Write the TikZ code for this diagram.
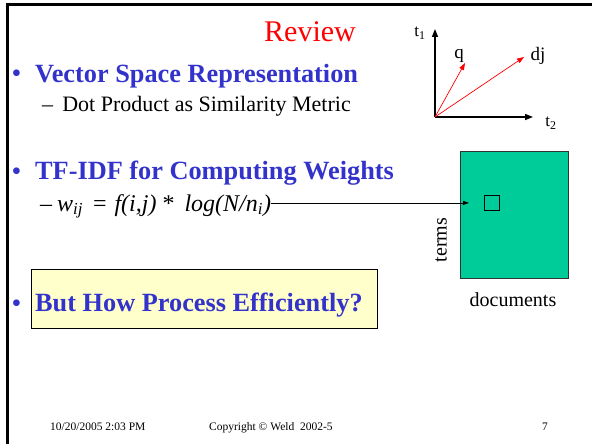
\documentclass[tikz,border=0pt]{standalone}
\usepackage{xcolor}
\usepackage{fontspec}
\setmainfont{Liberation Serif}
\usetikzlibrary{arrows.meta, positioning}
\definecolor{slideblue}{RGB}{51,51,204}
\definecolor{matgreen}{RGB}{0,204,153}
\definecolor{notefill}{RGB}{255,255,204}
\tikzstyle{head} = [anchor=base west, inner sep=0pt, text=slideblue, font=\fontsize{26.3}{30}\selectfont\bfseries]
\tikzstyle{bullet} = [anchor=base, inner sep=0pt, text=slideblue, font=\fontsize{28}{30}\selectfont]
\tikzstyle{sub} = [anchor=base west, inner sep=0pt, font=\fontsize{22}{26}\selectfont]
\tikzstyle{small} = [inner sep=0pt, font=\fontsize{19}{22}\selectfont]
\tikzstyle{foot} = [anchor=base west, inner sep=0pt, font=\fontsize{11.5}{13}\selectfont]
\tikzstyle{axis} = [line width=1.5pt, -{Triangle[length=8pt,width=6pt]}]
\tikzstyle{vec} = [red, line width=0.7pt, -{Triangle[length=7pt,width=5pt]}]
\tikzstyle{arrow} = [line width=0.8pt, -{Triangle[length=6pt,width=4pt]}]

\begin{document}
\begin{tikzpicture}[x=1pt, y=-1pt]
    \useasboundingbox (0,0) rectangle (592,444);
    % Slide frame
    \draw[line width=3pt] (7.5,444) -- (7.5,4.5) -- (600,4.5);

    % Title
    \node[anchor=base, inner sep=0pt, text=red, font=\fontsize{30}{34}\selectfont] (title) at (310,42) {Review};

    % Bullets
    \node[bullet] (b1) at (16.5,83) {\textbullet};
    \node[head] (vsr) at (35,82) {Vector Space Representation};
    \node[sub] (dotprod) at (42,111) {\textendash\ \,Dot Product as Similarity Metric};
    \node[bullet] (b2) at (16.5,180) {\textbullet};
    \node[head] (tfidf) at (35,179) {TF-IDF for Computing Weights};
    \node[sub, font=\fontsize{24}{28}\selectfont] (formula) at (40,211) {\textendash\hspace{5pt}\textit{w}\textsubscript{\textit{ij}}\hspace{10pt}=\hspace{8pt}\textit{f(i,j)}\hspace{6pt}*\hspace{10pt}\textit{log(N/n}\textsubscript{\textit{i}}\textit{)}};
    \node[draw=black, line width=1pt, fill=notefill, minimum width=346, minimum height=59, inner sep=0pt, anchor=north west] (notebox) at (31,269) {};
    \node[bullet] (b3) at (16.5,312) {\textbullet};
    \node[head] (effic) at (35,311) {But How Process Efficiently?};

    % Vector space sketch
    \coordinate (origin) at (435,117);
    \coordinate (t1end) at (435,29);
    \coordinate (t2end) at (533,117);
    \coordinate (qend) at (465,63);
    \coordinate (djend) at (524,57);
    \draw[axis] (origin) -- (t1end);
    \draw[axis] (origin) -- (t2end);
    \draw[vec] (origin) -- (qend);
    \draw[vec] (origin) -- (djend);
    \node[small, font=\fontsize{17}{20}\selectfont] (t1) at (420,33) {t\textsubscript{1}};
    \node[small, font=\fontsize{17}{20}\selectfont] (t2) at (551,123) {t\textsubscript{2}};
    \node[small] (qlab) at (459,56) {q};
    \node[small] (djlab) at (538,56) {dj};

    % Term-document matrix
    \node[draw=black!80, line width=0.8pt, fill=matgreen, minimum width=108, minimum height=127, inner sep=0pt, anchor=north west] (docmat) at (460,151) {};
    \node[draw=black, line width=0.8pt, minimum size=15, inner sep=0pt, anchor=north west] (cell) at (484,195) {};
    \node[small, font=\fontsize{20}{24}\selectfont, rotate=90] (terms) at (441,240) {terms};
    \node[small, font=\fontsize{20}{24}\selectfont, anchor=base] (docs) at (513,306) {documents};
    \draw[arrow, shorten >=15pt] (formula.east |- cell.west) -- (cell.west);

    % Footer
    \node[foot] (date) at (50,430) {10/20/2005 2:03 PM};
    \node[foot] (copy) at (209,430) {Copyright \textcopyright\ Weld\ \ 2002-5};
    \node[foot, anchor=base] (page) at (545,430) {7};
\end{tikzpicture}
\end{document}
